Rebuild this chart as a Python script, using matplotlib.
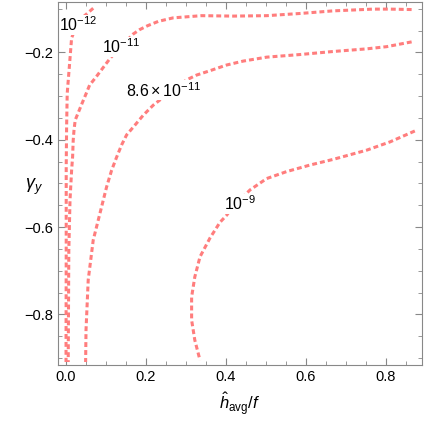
import matplotlib
matplotlib.use("Agg")
import matplotlib.pyplot as plt

# ---- fonts ----
plt.rcParams['font.family'] = ['Liberation Sans', 'DejaVu Sans']
plt.rcParams['mathtext.fontset'] = 'custom'
plt.rcParams['mathtext.rm'] = 'Liberation Sans'
plt.rcParams['mathtext.it'] = 'Liberation Sans:italic'
plt.rcParams['mathtext.sf'] = 'Liberation Sans'

# ---- contour lines (h_avg/f, gamma_y) ----
c12_x = [0.069, 0.045, 0.026, 0.015, 0.010, 0.004, 0.0025, 0.0015, 0.0015, 0.001]
c12_y = [-0.099, -0.118, -0.142, -0.167, -0.225, -0.294, -0.370, -0.462, -0.653, -0.909]

c11_x = [0.865, 0.811, 0.769, 0.669, 0.586, 0.503, 0.419, 0.340, 0.269, 0.232, 0.205,
         0.185, 0.169, 0.140, 0.111, 0.0765, 0.060, 0.0515, 0.041, 0.0325, 0.024, 0.021,
         0.019, 0.0175, 0.015, 0.011, 0.008, 0.0065]
c11_y = [-0.102, -0.101, -0.101, -0.105, -0.111, -0.116, -0.117, -0.116, -0.121, -0.129, -0.139,
         -0.148, -0.158, -0.185, -0.214, -0.256, -0.275, -0.294, -0.317, -0.336, -0.355, -0.378,
         -0.401, -0.439, -0.470, -0.538, -0.653, -0.909]

c86_x = [0.865, 0.8025, 0.7525, 0.669, 0.586, 0.5025, 0.444, 0.4025, 0.361, 0.3275,
         0.3025, 0.261, 0.219, 0.194, 0.173, 0.1525, 0.140, 0.1275, 0.115, 0.1025, 0.086,
         0.069, 0.0565, 0.051, 0.050]
c86_y = [-0.176, -0.187, -0.192, -0.198, -0.205, -0.211, -0.220, -0.229, -0.242, -0.252,
         -0.263, -0.291, -0.321, -0.344, -0.367, -0.389, -0.412, -0.440, -0.470, -0.508, -0.568,
         -0.630, -0.721, -0.836, -0.909]

c9_x = [0.873, 0.811, 0.7525, 0.669, 0.611, 0.5525, 0.5025, 0.461, 0.418, 0.4025,
        0.386, 0.361, 0.336, 0.323, 0.315, 0.315, 0.323, 0.336]
c9_y = [-0.380, -0.405, -0.424, -0.445, -0.458, -0.473, -0.489, -0.515, -0.554, -0.573,
        -0.589, -0.625, -0.668, -0.714, -0.760, -0.813, -0.859, -0.905]

label_text = [r'$10^{-12}$', r'$10^{-11}$', r'$8.6\times10^{-11}$', r'$10^{-9}$']
label_x = [0.031, 0.138, 0.246, 0.436]
label_y = [-0.137, -0.188, -0.287, -0.547]

LINE_COLOR = '#ff7d7d'

fig = plt.figure(figsize=(4.25, 4.25), dpi=100)
ax = fig.add_axes([0.1365, 0.141, 0.8565, 0.854])

for xs, ys in [(c12_x, c12_y), (c11_x, c11_y), (c86_x, c86_y), (c9_x, c9_y)]:
    ax.plot(xs, ys, color=LINE_COLOR, lw=2.2, dashes=(1.6, 1.0),
            solid_capstyle='butt', zorder=2)

# labels sit on the lines with a white patch, under the frame
for t, lx, ly in zip(label_text, label_x, label_y):
    ax.text(lx, ly, t, fontsize=11.5, ha='center', va='center', zorder=2.2,
            bbox=dict(facecolor='white', edgecolor='none', pad=0.5))

ax.set_xlim(-0.019, 0.891)
ax.set_ylim(-0.916, -0.085)
ax.set_xticks([0.0, 0.2, 0.4, 0.6, 0.8])
ax.set_xticklabels(['0.0', '0.2', '0.4', '0.6', '0.8'])
ax.set_yticks([-0.8, -0.6, -0.4, -0.2])
ax.set_yticklabels(['\u22120.8', '\u22120.6', '\u22120.4', '\u22120.2'])
ax.set_xticks([i * 0.05 for i in range(0, 18)], minor=True)
ax.set_yticks([-0.9 + i * 0.05 for i in range(0, 17)], minor=True)

ax.tick_params(which='both', direction='in', top=True, right=True, color='#888888',
               labelsize=10.5, labelcolor='black')
ax.tick_params(which='major', length=5, width=0.8)
ax.tick_params(which='minor', length=3, width=0.6)
for s in ax.spines.values():
    s.set_color('#888888')
    s.set_linewidth(0.8)
    s.set_zorder(3)

ax.set_xlabel(r'$\hat{h}_{\mathrm{avg}}/f$', fontsize=12, labelpad=5)
ax.set_ylabel(r'$\gamma_y$', fontsize=13, rotation=0)
ax.yaxis.set_label_coords(-0.067, 0.463)

fig.savefig('out.png', dpi=100)
